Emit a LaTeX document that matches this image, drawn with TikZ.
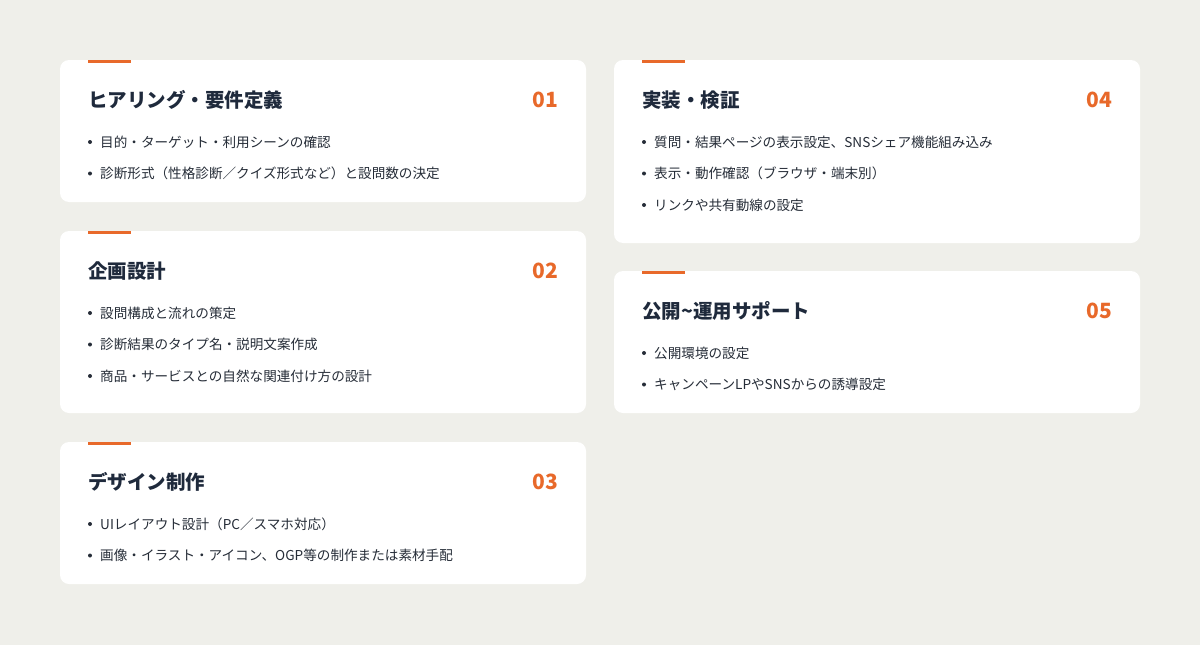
\documentclass[tikz,border=0pt]{standalone}
\usepackage{fontspec}
\setmainfont{Noto Sans CJK JP}
\definecolor{bgcol}{HTML}{EFEFEA}
\definecolor{ink}{HTML}{1F2A3C}
\definecolor{txt}{HTML}{262D38}
\definecolor{accent}{HTML}{E8692A}
\tikzset{
  card/.style={fill=white,draw=none,rounded corners=9pt},
  bar/.style={fill=accent},
  title/.style={anchor=west,inner sep=0pt,text=ink,font=\fontsize{19.5}{23}\selectfont\bfseries},
  num/.style={anchor=east,inner sep=0pt,text=accent,font=\fontsize{21}{24}\selectfont\bfseries},
  dot/.style={circle,fill=txt,inner sep=0pt,minimum size=4pt},
  item/.style={anchor=west,inner sep=0pt,text=txt,font=\fontsize{13.6}{16}\selectfont},
}
\begin{document}
\begin{tikzpicture}[x=1pt,y=-1pt]
  \fill[bgcol] (0,0) rectangle (1200,645);
  \useasboundingbox (0,0) rectangle (1200,645);

  % left column
  \path[card] (60,60) rectangle (586,202);
  \fill[bar] (88,59.5) rectangle (131,62.5);
  \node[title] (title1) at (88,100) {ヒアリング・要件定義};
  \node[num] (num1) at (558,100) {01};
  \foreach \t [count=\i] in {目的・ターゲット・利用シーンの確認,
      診断形式（性格診断／クイズ形式など）と設問数の決定}{
    \node[dot] (dot1\i) at (90,{142+31.5*(\i-1)}) {};
    \node[item] (item1\i) at (100,{142+31.5*(\i-1)}) {\t};
  }

  \path[card] (60,231) rectangle (586,413);
  \fill[bar] (88,230.5) rectangle (131,233.5);
  \node[title] (title2) at (88,271) {企画設計};
  \node[num] (num2) at (558,271) {02};
  \foreach \t [count=\i] in {設問構成と流れの策定,
      診断結果のタイプ名・説明文案作成,
      商品・サービスとの自然な関連付け方の設計}{
    \node[dot] (dot2\i) at (90,{313+31.5*(\i-1)}) {};
    \node[item] (item2\i) at (100,{313+31.5*(\i-1)}) {\t};
  }

  \path[card] (60,442) rectangle (586,584);
  \fill[bar] (88,441.5) rectangle (131,444.5);
  \node[title] (title3) at (88,482) {デザイン制作};
  \node[num] (num3) at (558,482) {03};
  \foreach \t [count=\i] in {UIレイアウト設計（PC／スマホ対応）,
      画像・イラスト・アイコン、OGP等の制作または素材手配}{
    \node[dot] (dot3\i) at (90,{524+31.5*(\i-1)}) {};
    \node[item] (item3\i) at (100,{524+31.5*(\i-1)}) {\t};
  }

  % right column
  \path[card] (614,60) rectangle (1140,243);
  \fill[bar] (642,59.5) rectangle (685,62.5);
  \node[title] (title4) at (642,100) {実装・検証};
  \node[num] (num4) at (1112,100) {04};
  \foreach \t [count=\i] in {質問・結果ページの表示設定、SNSシェア機能組み込み,
      表示・動作確認（ブラウザ・端末別）,
      リンクや共有動線の設定}{
    \node[dot] (dot4\i) at (644,{142+31.5*(\i-1)}) {};
    \node[item] (item4\i) at (654,{142+31.5*(\i-1)}) {\t};
  }

  \path[card] (614,271) rectangle (1140,413);
  \fill[bar] (642,270.5) rectangle (685,273.5);
  \node[title] (title5) at (642,311) {公開\textasciitilde 運用サポート};
  \node[num] (num5) at (1112,311) {05};
  \foreach \t [count=\i] in {公開環境の設定,
      キャンペーンLPやSNSからの誘導設定}{
    \node[dot] (dot5\i) at (644,{353+31.5*(\i-1)}) {};
    \node[item] (item5\i) at (654,{353+31.5*(\i-1)}) {\t};
  }
\end{tikzpicture}
\end{document}
